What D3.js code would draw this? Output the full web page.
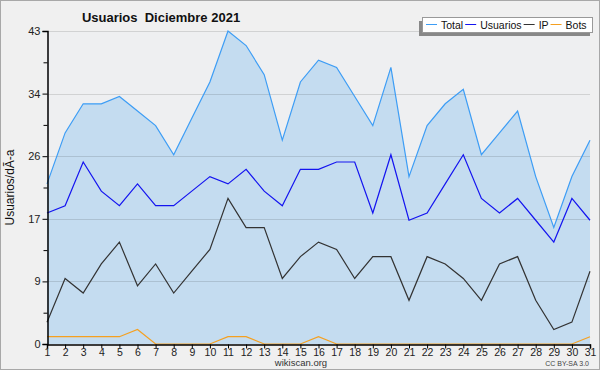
<!DOCTYPE html>
<html>
<head>
<meta charset="utf-8">
<script src="https://cdn.jsdelivr.net/npm/d3@7"></script>
<style>
  body { margin: 0; background: #fff; }
  svg { display: block; font-family: "Liberation Sans", Arial, sans-serif; }
</style>
</head>
<body>
<div id="vis"></div>
<script>
// days of the month
var days = d3.range(1, 32);

// values
var total    = [22,29,33,33,34,32,30,26,31,36,43,41,37,28,36,39,38,34,30,38,23,30,33,35,26,29,32,23,16,23,28];
var usuarios = [18,19,25,21,19,22,19,19,21,23,22,24,21,19,24,24,25,25,18,26,17,18,22,26,20,18,20,17,14,20,17];
var ip       = [3,9,7,11,14,8,11,7,10,13,20,16,16,9,12,14,13,9,12,12,6,12,11,9,6,11,12,6,2,3,10];
var bots     = [1,1,1,1,1,2,0,0,0,0,1,1,0,0,0,1,0,0,0,0,0,0,0,0,0,0,0,0,0,0,1];

var yMax = 43;
var seriesNames = ['Total', 'Usuarios', 'IP', 'Bots'];
var seriesColors = ['#3d9df5', '#1414f0', '#333333', '#f5a020'];

var width = 600, height = 370;
var margin = { left: 47, right: 10, top: 31, bottom: 26 };

var svg = d3.select('#vis').append('svg')
  .attr('width', width)
  .attr('height', height);

svg.append('rect')
  .attr('x', 0.5).attr('y', 0.5)
  .attr('width', width - 1).attr('height', height - 1)
  .attr('fill', '#f0f0f0')
  .attr('stroke', '#a8a8a8');

var x = d3.scaleLinear().domain([1, 31]).range([margin.left, width - margin.right]);
var y = d3.scaleLinear().domain([0, yMax]).range([height - margin.bottom, margin.top]);

// plot background
svg.append('rect')
  .attr('x', x(1)).attr('y', y(yMax))
  .attr('width', x(31) - x(1)).attr('height', y(0) - y(yMax))
  .attr('fill', '#eeeff1');

var majorTicks = d3.range(0, 6).map(function(i) { return yMax * i / 5; });
var minorTicks = d3.range(0, 5).map(function(i) { return yMax * (i + 0.5) / 5; });

// area of total
var area = d3.area()
  .x(function(d, i) { return x(days[i]); })
  .y0(y(0))
  .y1(function(d) { return y(d); });

svg.append('path')
  .datum(total)
  .attr('d', area)
  .attr('fill', '#c4dcf0');

// grid lines
svg.append('g').selectAll('line')
  .data(majorTicks.slice(1))
  .enter().append('line')
  .attr('x1', x(1)).attr('x2', x(31))
  .attr('y1', function(d) { return Math.round(y(d)) + 0.5; })
  .attr('y2', function(d) { return Math.round(y(d)) + 0.5; })
  .attr('stroke', 'rgba(0,0,0,0.12)');

// lines
var line = d3.line()
  .x(function(d, i) { return x(days[i]); })
  .y(function(d) { return y(d); });

[total, usuarios, ip, bots].forEach(function(s, i) {
  svg.append('path')
    .datum(s)
    .attr('d', line)
    .attr('fill', 'none')
    .attr('stroke', seriesColors[i])
    .attr('stroke-width', 1.2);
});

// y axis
var yAxis = d3.axisLeft(y)
  .tickValues(majorTicks)
  .tickFormat(function(d) { return Math.round(d); })
  .tickSize(5)
  .tickPadding(2);

var gy = svg.append('g')
  .attr('transform', 'translate(' + (x(1) + 0.5) + ',0)')
  .call(yAxis);
gy.select('.domain').attr('stroke', '#000').attr('stroke-width', 1.5);
gy.selectAll('text').attr('font-size', 11).attr('fill', '#222').attr('font-family', '"Liberation Sans", Arial, sans-serif');

svg.append('g')
  .attr('transform', 'translate(' + (x(1) + 0.5) + ',0)')
  .call(d3.axisLeft(y).tickValues(minorTicks).tickSize(4).tickFormat(''))
  .select('.domain').remove();

// x axis
var xAxis = d3.axisBottom(x)
  .tickValues(days)
  .tickFormat(d3.format('d'))
  .tickSize(4)
  .tickPadding(0);

var gx = svg.append('g')
  .attr('transform', 'translate(0,' + (y(0) + 0.5) + ')')
  .call(xAxis);
gx.select('.domain').attr('stroke', '#000').attr('stroke-width', 1.5);
gx.selectAll('text').attr('font-size', 10.5).attr('fill', '#222').attr('font-family', '"Liberation Sans", Arial, sans-serif');

// title
svg.append('text')
  .attr('x', 161).attr('y', 22)
  .attr('text-anchor', 'middle')
  .attr('font-weight', 'bold')
  .attr('font-size', 13)
  .attr('fill', '#111')
  .style('white-space', 'pre')
  .text('Usuarios  Diciembre 2021');

// y label
svg.append('text')
  .attr('transform', 'translate(14,' + ((y(0) + y(yMax)) / 2) + ') rotate(-90)')
  .attr('text-anchor', 'middle')
  .attr('font-size', 12)
  .attr('fill', '#111')
  .text('Usuarios/dÃ-a');

// footer
svg.append('text')
  .attr('x', 301).attr('y', 366)
  .attr('text-anchor', 'middle')
  .attr('font-size', 9.5)
  .attr('fill', '#333')
  .text('wikiscan.org');

svg.append('text')
  .attr('x', 589).attr('y', 366)
  .attr('text-anchor', 'end')
  .attr('font-size', 7)
  .attr('fill', '#444')
  .text('CC BY-SA 3.0');

// legend
var lg = svg.append('g').attr('transform', 'translate(422,17)');
lg.append('rect')
  .attr('x', -3).attr('y', 4).attr('width', 171).attr('height', 15)
  .attr('fill', '#888');
lg.append('rect')
  .attr('x', 0.5).attr('y', 0.5).attr('width', 170).attr('height', 15)
  .attr('fill', '#fff').attr('stroke', '#999');

var cursor = 4;
seriesNames.forEach(function(name, i) {
  lg.append('line')
    .attr('x1', cursor).attr('x2', cursor + 11)
    .attr('y1', 7.5).attr('y2', 7.5)
    .attr('stroke', seriesColors[i]);
  var t = lg.append('text')
    .attr('x', cursor + 15).attr('y', 12)
    .attr('font-size', 10.5)
    .attr('fill', '#111')
    .text(name);
  cursor += 15 + t.node().getComputedTextLength() + 2;
});
</script>
</body>
</html>
